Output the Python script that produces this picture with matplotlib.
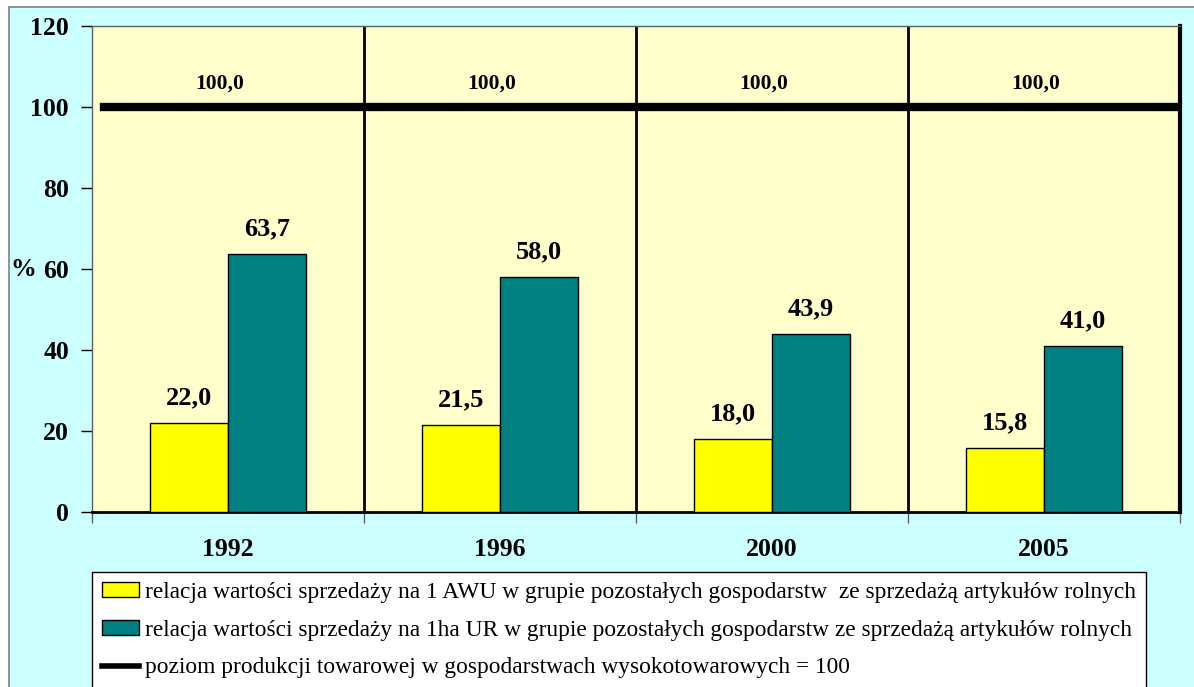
import numpy as np
import matplotlib
matplotlib.use('Agg')
import matplotlib.pyplot as plt
from matplotlib.patches import Rectangle, Patch
from matplotlib.lines import Line2D

plt.rcParams['font.family'] = ['Liberation Serif', 'DejaVu Serif']

# data
years = ['1992', '1996', '2000', '2005']
awu = [22.0, 21.5, 18.0, 15.8]       # na 1 AWU
ha = [63.7, 58.0, 43.9, 41.0]        # na 1ha UR
ref_level = 100.0
y_ticks = [0, 20, 40, 60, 80, 100, 120]
legend_labels = [
    'relacja wartości sprzedaży na 1 AWU w grupie pozostałych gospodarstw  ze sprzedażą artykułów rolnych',
    'relacja wartości sprzedaży na 1ha UR w grupie pozostałych gospodarstw ze sprzedażą artykułów rolnych',
    'poziom produkcji towarowej w gospodarstwach wysokotowarowych = 100',
]

def fmt(v):
    return ('%.1f' % v).replace('.', ',')

W, H = 1194, 687
fig = plt.figure(figsize=(W / 100, H / 100), dpi=100, facecolor='white')
bg = Rectangle((9 / W, -0.01), 1.02, (H - 7) / H + 0.01, transform=fig.transFigure,
               facecolor='#CCFFFF', edgecolor='#808080', linewidth=1.2, zorder=-5)
fig.patches.append(bg)

ax = fig.add_axes([92 / W, (H - 512) / H, (1180 - 92) / W, (512 - 26) / H])
ax.set_facecolor('#FFFFCC')

x = np.arange(len(years))
bw = 0.287
ax.bar(x - bw / 2, awu, bw, color='#FFFF00', edgecolor='black', linewidth=1, zorder=3)
ax.bar(x + bw / 2, ha, bw, color='#008080', edgecolor='black', linewidth=1, zorder=3)

for xi, v in zip(x, awu):
    ax.annotate(fmt(v), (xi - bw / 2, v), xytext=(0, 18), textcoords='offset points',
                ha='center', va='center', fontsize=19, fontweight='bold', zorder=5)
for xi, v in zip(x, ha):
    ax.annotate(fmt(v), (xi + bw / 2, v), xytext=(0, 18), textcoords='offset points',
                ha='center', va='center', fontsize=19, fontweight='bold', zorder=5)

# reference line at 100
ax.axhline(ref_level, xmin=0.011, xmax=1, color='black', linewidth=6, zorder=4)
for xi in x:
    ax.annotate(fmt(ref_level), (xi - 0.03, ref_level), xytext=(0, 17), textcoords='offset points',
                ha='center', va='center', fontsize=15.5, fontweight='bold', zorder=5)

# category separators
for b in x[:-1] + 0.5:
    ax.axvline(b, color='black', linewidth=2, zorder=2)

ax.set_xlim(-0.5, len(years) - 0.5)
ax.set_ylim(0, 120)
ax.set_yticks(y_ticks)
ax.set_yticklabels([str(t) for t in y_ticks], fontsize=18.5, fontweight='bold')
ax.tick_params(axis='y', direction='out', length=8, width=1, pad=8.5)

ax.set_xticks(np.arange(len(years) + 1) - 0.5)
ax.set_xticklabels([])
ax.tick_params(axis='x', which='major', direction='out', length=8, width=1, color='#606060')
ax.set_xticks(x, minor=True)
ax.set_xticklabels(years, minor=True, fontsize=18.5, fontweight='bold')
ax.tick_params(axis='x', which='minor', length=0, pad=19)

for s in ['left', 'top']:
    ax.spines[s].set_color('#606060')
    ax.spines[s].set_linewidth(1)
ax.spines['bottom'].set_color('black')
ax.spines['bottom'].set_linewidth(2)
ax.spines['right'].set_color('black')
ax.spines['right'].set_linewidth(3)

fig.text(23 / W, (H - 270) / H, '%', fontsize=18.5, fontweight='bold', ha='center', va='center')

handles = [
    Patch(facecolor='#FFFF00', edgecolor='black', linewidth=1),
    Patch(facecolor='#008080', edgecolor='black', linewidth=1),
    Line2D([0], [0], color='black', linewidth=4),
]
leg = fig.legend(handles, legend_labels, loc='upper left', bbox_to_anchor=(92 / W, (H - 572) / H),
                 fontsize=16.8, frameon=True, fancybox=False, edgecolor='black', facecolor='white',
                 framealpha=1, handlelength=1.6, handleheight=0.6, handletextpad=0.25,
                 labelspacing=0.72, borderpad=0.42, borderaxespad=0)
leg.get_frame().set_linewidth(1)

fig.savefig('out.png', dpi=100, facecolor='white')
